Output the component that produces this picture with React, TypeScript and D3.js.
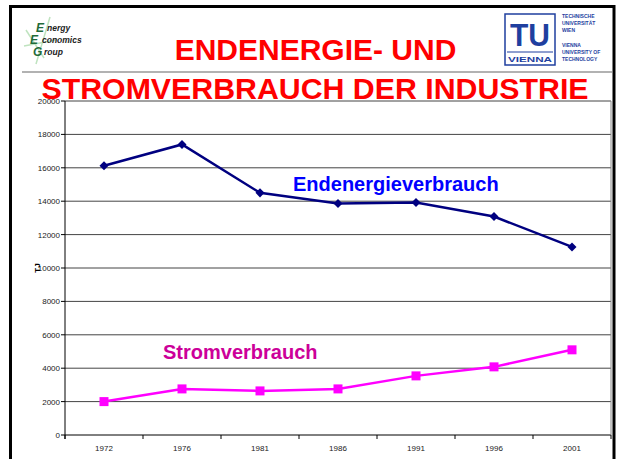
import React from "react";
import * as d3 from "d3";

const years = ["1972", "1976", "1981", "1986", "1991", "1996", "2001"];
const endenergie = [16120, 17400, 14500, 13860, 13920, 13080, 11260];
const strom = [2000, 2760, 2640, 2760, 3540, 4080, 5100];
const yTicks = [0, 2000, 4000, 6000, 8000, 10000, 12000, 14000, 16000, 18000, 20000];

const FONT = "'Liberation Sans', Arial, Helvetica, sans-serif";

export default function App() {
  const W = 620, H = 459;
  const left = 65, right = 611, top = 101, bottom = 435;
  const x = d3.scaleBand<string>().domain(years).range([left, right]).padding(0);
  const y = d3.scaleLinear().domain([0, 20000]).range([bottom, top]);
  const cx = (yr: string) => (x(yr) as number) + x.bandwidth() / 2;

  const line = d3.line<number>().x((_, i) => cx(years[i])).y((d) => y(d));

  return (
    <svg width={W} height={H} style={{ position: "absolute", left: 0, top: 0, background: "#fff" }} fontFamily={FONT}>
      <rect x={0} y={0} width={W} height={H} fill="#fff" />
      {/* slide frame */}
      <rect x={10.5} y={6.5} width={603.5} height={480} fill="none" stroke="#000" strokeWidth={3} />
      {/* header separator */}
      <line x1={22} x2={612} y1={72} y2={72} stroke="#999" strokeWidth={1.5} />

      {/* EEG logo */}
      <g>
        <line x1={26} y1={30} x2={44} y2={58} stroke="#bfe3bf" strokeWidth={1.5} />
        <line x1={50} y1={17} x2={36} y2={64} stroke="#bfe3bf" strokeWidth={1.5} />
        <line x1={24} y1={46} x2={56} y2={40} stroke="#bfe3bf" strokeWidth={1.5} />
        <text x={36} y={32} fontSize={12} fontWeight="bold" fontStyle="italic" fill="#1f6b3a">E</text>
        <text x={30} y={44} fontSize={12} fontWeight="bold" fontStyle="italic" fill="#1f6b3a">E</text>
        <text x={33} y={56} fontSize={12} fontWeight="bold" fontStyle="italic" fill="#1f6b3a">G</text>
        <text x={47} y={31} fontSize={8.5} fontStyle="italic" fontWeight="bold" fill="#222">nergy</text>
        <text x={42} y={43} fontSize={8.5} fontStyle="italic" fontWeight="bold" fill="#222">conomics</text>
        <text x={44} y={55} fontSize={8.5} fontStyle="italic" fontWeight="bold" fill="#222">roup</text>
      </g>

      {/* TU logo */}
      <g fill="#1f3f9f">
        <rect x={505} y={14} width={50} height={51} fill="none" stroke="#1f3f9f" strokeWidth={1.5} />
        <text x={530} y={46} fontSize={32} fontWeight="bold" textAnchor="middle" textLength={40} lengthAdjust="spacingAndGlyphs">TU</text>
        <line x1={507} x2={553} y1={52} y2={52} stroke="#1f3f9f" strokeWidth={1} />
        <text x={530} y={62} fontSize={8} fontWeight="bold" textAnchor="middle" textLength={44} lengthAdjust="spacingAndGlyphs">VIENNA</text>
        <g fontSize={5} fontWeight="bold">
          <text x={562} y={18}>TECHNISCHE</text>
          <text x={562} y={25}>UNIVERSITÄT</text>
          <text x={562} y={32}>WIEN</text>
          <text x={562} y={47}>VIENNA</text>
          <text x={562} y={54}>UNIVERSITY OF</text>
          <text x={562} y={61}>TECHNOLOGY</text>
        </g>
      </g>

      {/* gridlines */}
      {yTicks.map((t) => (
        <line key={"g" + t} x1={left} x2={right} y1={y(t)} y2={y(t)} stroke={t === 0 ? "#000" : "#444"} strokeWidth={1} />
      ))}
      <line x1={right} x2={right} y1={top} y2={bottom} stroke="#888" strokeWidth={1} />

      {/* y axis */}
      <line x1={left} x2={left} y1={top} y2={bottom + 4} stroke="#000" strokeWidth={1} />
      {yTicks.map((t) => (
        <g key={"yt" + t}>
          <line x1={left - 4} x2={left} y1={y(t)} y2={y(t)} stroke="#000" />
          <text x={left - 5} y={y(t) + 3} fontSize={8} textAnchor="end" fill="#222">{t}</text>
        </g>
      ))}
      <text transform={`translate(40,${(top + bottom) / 2}) rotate(-90)`} fontSize={8} fontWeight="bold" textAnchor="middle" fill="#000">TJ</text>

      {/* x axis */}
      {[...years.map((yr) => x(yr) as number), right].map((px, i) => (
        <line key={"xt" + i} x1={px} x2={px} y1={bottom} y2={bottom + 4} stroke="#000" />
      ))}
      {years.map((yr) => (
        <text key={"xl" + yr} x={cx(yr)} y={bottom + 16} fontSize={8} textAnchor="middle" fill="#222">{yr}</text>
      ))}

      {/* series */}
      <path d={line(endenergie) as string} fill="none" stroke="#000080" strokeWidth={2.5} />
      {endenergie.map((v, i) => (
        <rect key={"d" + i} x={-3.2} y={-3.2} width={6.4} height={6.4} fill="#000080"
          transform={`translate(${cx(years[i])},${y(v)}) rotate(45)`} />
      ))}
      <path d={line(strom) as string} fill="none" stroke="#FF00FF" strokeWidth={2.5} />
      {strom.map((v, i) => (
        <rect key={"s" + i} x={cx(years[i]) - 4.5} y={y(v) - 4.5} width={9} height={9} fill="#FF00FF" />
      ))}

      {/* series labels */}
      <text x={293} y={y(14640)} fontSize={20} fontWeight="bold" fill="#0000FF">Endenergieverbrauch</text>
      <text x={163} y={y(4540)} fontSize={20} fontWeight="bold" fill="#CC0099">Stromverbrauch</text>

      {/* title */}
      <text x={315.5} y={60} fontSize={30} fontWeight="bold" fill="#FF0000" textAnchor="middle">ENDENERGIE- UND</text>
      <text x={315} y={99} fontSize={30.3} fontWeight="bold" fill="#FF0000" textAnchor="middle">STROMVERBRAUCH DER INDUSTRIE</text>
    </svg>
  );
}
